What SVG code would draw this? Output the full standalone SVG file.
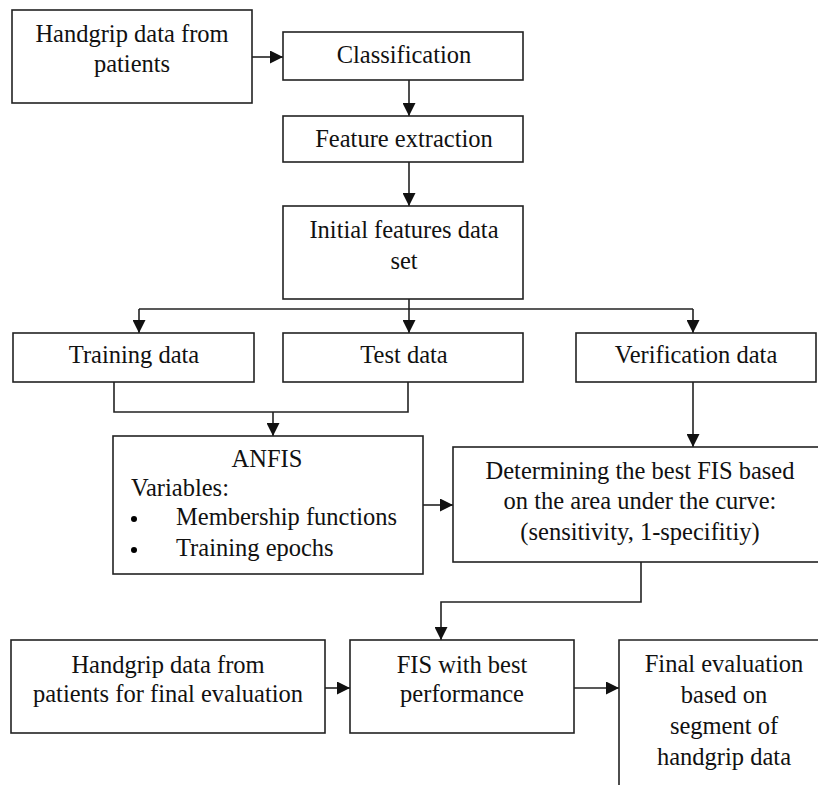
<svg xmlns="http://www.w3.org/2000/svg" width="818" height="785" viewBox="0 0 818 785">
<style>
.box{fill:#fff;stroke:#222;stroke-width:1.6}
.ln{fill:none;stroke:#222;stroke-width:1.6}
text{font-family:"Liberation Serif","Times New Roman",serif;font-size:24.5px;fill:#111}
.c{text-anchor:middle}
</style>
<defs>
<marker id="ah" viewBox="0 0 12 12" refX="12" refY="6" markerWidth="13" markerHeight="13" markerUnits="userSpaceOnUse" orient="auto">
<path d="M0,0 L12,6 L0,12 Z" fill="#111"/>
</marker>
</defs>
<rect width="818" height="785" fill="#fff"/>
<g id="connectors">
<path class="ln" d="M252,57 H283" marker-end="url(#ah)"/>
<path class="ln" d="M409,80 V116" marker-end="url(#ah)"/>
<path class="ln" d="M409,162 V206" marker-end="url(#ah)"/>
<path class="ln" d="M409,299 V309"/>
<path class="ln" d="M139,309 H693"/>
<path class="ln" d="M139,309 V333" marker-end="url(#ah)"/>
<path class="ln" d="M409,309 V333" marker-end="url(#ah)"/>
<path class="ln" d="M693,309 V333" marker-end="url(#ah)"/>
<path class="ln" d="M114,382 V412 H408 V382"/>
<path class="ln" d="M273,412 V436" marker-end="url(#ah)"/>
<path class="ln" d="M693,382 V447" marker-end="url(#ah)"/>
<path class="ln" d="M423,505 H453" marker-end="url(#ah)"/>
<path class="ln" d="M641,562 V602 H441 V640" marker-end="url(#ah)"/>
<path class="ln" d="M325,688 H350" marker-end="url(#ah)"/>
<path class="ln" d="M574,688 H619" marker-end="url(#ah)"/>
</g>
<g id="handgrip">
<rect class="box" x="12" y="10" width="240" height="93"/>
<text class="c" x="132" y="42">Handgrip data from</text>
<text class="c" x="132" y="72">patients</text>
</g>
<g id="classification">
<rect class="box" x="283" y="32" width="240" height="48"/>
<text class="c" x="404" y="63">Classification</text>
</g>
<g id="feature">
<rect class="box" x="283" y="116" width="240" height="46"/>
<text class="c" x="404" y="147">Feature extraction</text>
</g>
<g id="initial">
<rect class="box" x="283" y="206" width="240" height="93"/>
<text class="c" x="404" y="238">Initial features data</text>
<text class="c" x="404" y="269">set</text>
</g>
<g id="training">
<rect class="box" x="13" y="333" width="241" height="49"/>
<text class="c" x="134" y="363">Training data</text>
</g>
<g id="test">
<rect class="box" x="283" y="333" width="240" height="49"/>
<text class="c" x="404" y="363">Test data</text>
</g>
<g id="verification">
<rect class="box" x="576" y="333" width="240" height="49"/>
<text class="c" x="696" y="363">Verification data</text>
</g>
<g id="anfis">
<rect class="box" x="113" y="436" width="310" height="138"/>
<text class="c" x="267" y="467">ANFIS</text>
<text x="131" y="496">Variables:</text>
<circle cx="134" cy="519" r="3"/>
<text x="176" y="525">Membership functions</text>
<circle cx="134" cy="550" r="3"/>
<text x="176" y="556">Training epochs</text>
</g>
<g id="determining">
<rect class="box" x="453" y="447" width="380" height="115"/>
<text class="c" x="640" y="479">Determining the best FIS based</text>
<text class="c" x="640" y="509">on the area under the curve:</text>
<text class="c" x="640" y="540">(sensitivity, 1-specifitiy)</text>
</g>
<g id="handgrip-final">
<rect class="box" x="11" y="640" width="314" height="93"/>
<text class="c" x="168" y="673">Handgrip data from</text>
<text class="c" x="168" y="702">patients for final evaluation</text>
</g>
<g id="fis-best">
<rect class="box" x="350" y="640" width="224" height="93"/>
<text class="c" x="462" y="673">FIS with best</text>
<text class="c" x="462" y="702">performance</text>
</g>
<g id="final-eval">
<path class="box" d="M619,790 V640 H830"/>
<text class="c" x="724" y="672">Final evaluation</text>
<text class="c" x="724" y="703">based on</text>
<text class="c" x="724" y="734">segment of</text>
<text class="c" x="724" y="765">handgrip data</text>
</g>
</svg>
